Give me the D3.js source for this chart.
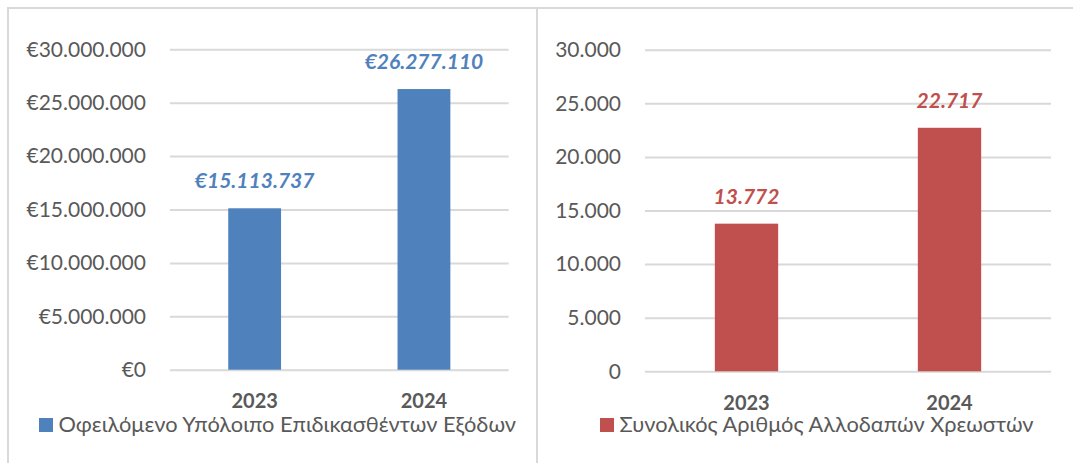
<!DOCTYPE html>
<html>
<head>
<meta charset="utf-8">
<script src="https://cdn.jsdelivr.net/npm/d3@7"></script>
<style>
  body { margin: 0; background: #fff; }
  svg { display: block; font-family: Lato, "Noto Sans", sans-serif; }
</style>
</head>
<body>
<svg width="1073" height="463"></svg>
<script>
// data
const years = ["2023", "2024"]
const balanceValues = [15113737, 26277110]
const debtorValues = [13772, 22717]
const balanceLabel = "Οφειλόμενο Υπόλοιπο Επιδικασθέντων Εξόδων"
const debtorLabel = "Συνολικός Αριθμός Αλλοδαπών Χρεωστών"

const greek = d3.formatLocale({
    decimal: ",",
    thousands: ".",
    grouping: [3],
    currency: ["€", ""]
})
const euro = greek.format("$,d")
const plain = greek.format(",d")

const svg = d3.select("svg")
const grey = "#595959"
const lineGrey = "#d9d9d9"

// outer frame lines
svg.append("path")
    .attr("d", "M8,463V8H1073M537,8V463")
    .attr("fill", "none")
    .attr("stroke", lineGrey)
    .attr("stroke-width", 2)

function drawPanel(p) {
    const g = svg.append("g")

    const x = d3.scaleBand()
        .domain(years)
        .range([p.left, p.right])
        .paddingInner(0.688)
        .paddingOuter(0.344)

    const y = d3.scaleLinear()
        .domain([0, 30000])
        .range([p.bottom, p.top])
    if (p.money) y.domain([0, 30000000])

    const yAxis = g.append("g")
        .attr("transform", `translate(${p.left},0)`)
        .call(d3.axisLeft(y)
            .ticks(6)
            .tickSize(-(p.right - p.left))
            .tickPadding(24)
            .tickFormat(p.fmt))
    yAxis.select(".domain").remove()
    yAxis.selectAll("line")
        .attr("stroke", lineGrey)
        .attr("stroke-width", 2)
    yAxis.selectAll("text")
        .attr("fill", grey)
        .style("font-size", "21px")
        .style("font-family", "Lato, sans-serif")

    g.selectAll("rect.bar")
        .data(p.values)
        .enter().append("rect")
        .attr("class", "bar")
        .attr("x", (d, i) => x(years[i]))
        .attr("width", x.bandwidth())
        .attr("y", d => y(d))
        .attr("height", d => p.bottom - y(d))
        .attr("fill", p.color)

    // value labels above the bars
    g.selectAll("text.val")
        .data(p.values)
        .enter().append("text")
        .attr("class", "val")
        .attr("x", (d, i) => x(years[i]) + x.bandwidth() / 2)
        .attr("y", d => y(d) - 20)
        .attr("text-anchor", "middle")
        .attr("fill", p.color)
        .style("font-size", "21px")
        .style("font-weight", "bold")
        .style("font-style", "italic")
        .text(d => p.fmt(d))

    // category labels
    g.selectAll("text.cat")
        .data(years)
        .enter().append("text")
        .attr("class", "cat")
        .attr("x", d => x(d) + x.bandwidth() / 2)
        .attr("y", p.bottom + 38.5)
        .attr("text-anchor", "middle")
        .attr("fill", grey)
        .style("font-size", "20px")
        .style("font-weight", "bold")
        .text(d => d)

    // legend
    g.append("rect")
        .attr("x", p.legendX)
        .attr("y", 418)
        .attr("width", 14)
        .attr("height", 14)
        .attr("fill", p.color)
    g.append("text")
        .attr("x", p.legendX + 19.5)
        .attr("y", 432)
        .attr("fill", grey)
        .style("font-size", "21.8px")
        .text(p.label)
}

drawPanel({
    left: 170, right: 508.6, top: 49.3, bottom: 369.7,
    values: balanceValues, fmt: euro, money: true,
    color: "#4f81bd", legendX: 39, label: balanceLabel
})

drawPanel({
    left: 645, right: 1051, top: 49.7, bottom: 371.3,
    values: debtorValues, fmt: plain, money: false,
    color: "#c0504d", legendX: 600, label: debtorLabel
})
</script>
</body>
</html>
